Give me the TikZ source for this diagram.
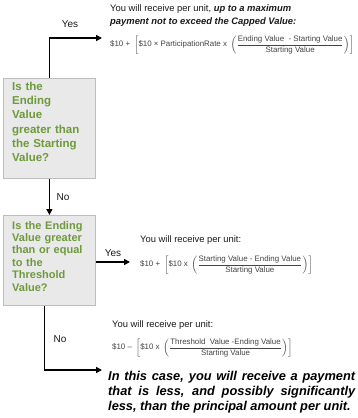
\documentclass[tikz,border=0pt]{standalone}
\usepackage{fontspec}
\setmainfont{Liberation Sans}
\usetikzlibrary{arrows.meta}
\definecolor{qgreen}{HTML}{6E9A3C}
\definecolor{boxfill}{HTML}{E9E9E9}
\definecolor{boxline}{HTML}{BDBDBD}
\definecolor{txt}{HTML}{1A1A1A}
\definecolor{ftxt}{HTML}{444444}
\newcommand{\myfr}[2]{\displaystyle\frac{\mbox{#1}}{\mbox{#2}}}
\begin{document}
\begin{tikzpicture}[x=1pt,y=-1pt,
  qbox/.style={draw=boxline, fill=boxfill, line width=0.8pt, minimum width=92pt, anchor=north west},
  qtext/.style={text width=76pt, inner sep=0pt, align=left, text=qgreen, anchor=north west},
  conn/.style={draw=black, line width=1.4pt, -{Triangle[length=6pt,width=6pt]}},
  lbl/.style={font=\fontsize{10}{12}\selectfont, text=txt, inner sep=0pt},
  head/.style={font=\fontsize{9.4}{13}\selectfont, text=txt, inner sep=0pt, anchor=north west, align=left},
  formula/.style={font=\fontsize{7.9}{9}\selectfont, text=ftxt, inner sep=0pt, anchor=west}
]
\useasboundingbox (0,0) rectangle (357,418);
\fill[white] (0,0) rectangle (357,418);

\node[qbox, minimum height=100pt] (q1) at (3,78) {};
\node[qtext, font=\fontsize{11.5}{14.2}\selectfont\bfseries] (q1t) at (12,82)
  {Is the\\Ending\\Value\\greater than\\the Starting\\Value?};
\node[qbox, minimum height=90pt] (q2) at (3,215) {};
\node[qtext, font=\fontsize{11}{12.4}\selectfont\bfseries] (q2t) at (12,221)
  {Is the Ending\\Value greater\\than or equal\\to the\\Threshold\\Value?};

\coordinate (c1) at (102,38);
\coordinate (c2) at (130,262);
\coordinate (c3) at (102,370);

\draw[conn] (q1.north) |- (c1);
\draw[conn] (q1.south) -- (q2.north);
\draw[conn] (q2.east |- c2) -- (c2);
\draw[conn] ([xshift=-5pt]q2.south) |- (c3);

\node[lbl] (y1) at (70,24) {Yes};
\node[lbl] (n1) at (63,197) {No};
\node[lbl] (y2) at (113,253) {Yes};
\node[lbl] (n2) at (60,339) {No};

\node[head] (h1) at (110,4) {You will receive per unit, \textbf{\textit{up to a maximum}}\\\textbf{\textit{payment not to exceed the Capped Value:}}};
\node[formula] (f1) at (110,45) {$\mbox{\$10 + }\left[\mbox{\$10 × ParticipationRate x }\left(\myfr{Ending Value \ - Starting Value}{Starting Value}\right)\right]$};

\node[head] (h2) at (140,235) {You will receive per unit:};
\node[formula] (f2) at (140,265) {$\mbox{\$10 + }\left[\mbox{\$10 x }\left(\myfr{Starting Value - Ending Value}{Starting Value}\right)\right]$};

\node[head] (h3) at (112,320) {You will receive per unit:};
\node[formula] (f3) at (112,348) {$\mbox{\$10 -- }\left[\mbox{\$10 x }\left(\myfr{Threshold \ Value -Ending Value}{Starting Value}\right)\right]$};

\node[head, text width=247pt, align=justify, font=\fontsize{12.8}{15}\selectfont\bfseries\itshape, text=black] (p) at (108,371)
  {In this case, you will receive a payment\linebreak that is less, and possibly significantly\linebreak less, than the principal amount per unit.};
\end{tikzpicture}
\end{document}
